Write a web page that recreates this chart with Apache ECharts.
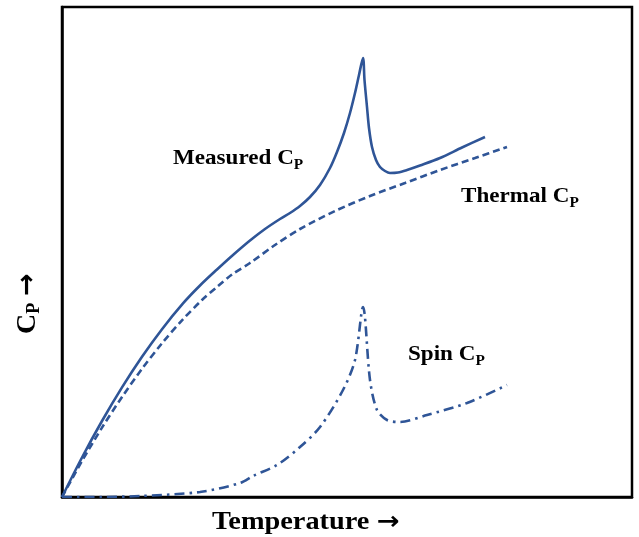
<!DOCTYPE html>
<html>
<head>
<meta charset="utf-8">
<style>
  html, body { margin: 0; padding: 0; background: #fff; }
  #chart { width: 639px; height: 537px; }
</style>
<script src="https://cdn.jsdelivr.net/npm/echarts@6/dist/echarts.min.js"></script>
</head>
<body>
<div id="chart"></div>
<script>
// Heat capacity vs temperature (schematic, arbitrary units):
// measured Cp, the smooth thermal (lattice) background and the spin contribution.
const measuredT  = [0, 20, 40, 60, 80, 100, 121, 138, 155, 171, 188, 203, 218, 228, 238, 248, 258, 268, 275, 282, 288, 293, 297, 301, 302.5, 305, 307, 310, 314, 318, 323, 328, 336, 345, 358, 378, 400, 423];
const measuredCp = [0, 39.5, 76, 109.6, 140.2, 167.8, 193.6, 211.5, 227.5, 242, 256.5, 268, 278, 284, 291, 300, 312, 329, 345, 364, 384, 404, 422, 439, 417, 390, 369, 350, 337, 330, 326, 324, 324.5, 327, 331.5, 339, 349.5, 360];

const thermalT  = [0, 20, 40, 60, 80, 100, 120, 140, 155, 170, 188, 213, 238, 273, 308, 343, 378, 413, 445];
const thermalCp = [0, 36, 69.4, 100, 128.2, 153.7, 176.7, 197, 210, 222.5, 234, 252, 268, 286, 301, 314, 327, 339, 350];

const spinT  = [0, 38, 78, 138, 178, 191, 215, 238, 258, 281, 293, 301, 308, 315, 325, 338, 365, 405, 445];
const spinCp = [0, 0, 1, 5, 14, 21, 32, 50, 70, 107, 137, 190, 117, 87, 77, 75, 82, 94, 112];

const seriesNames = ['Measured', 'Thermal', 'Spin'];
const axisRange = { tMax: 570, cpMax: 490 };

const pairs = (xs, ys) => xs.map((x, i) => [x, ys[i]]);

const BLUE = '#2f5597';
const SERIF = '"Liberation Serif", "Times New Roman", serif';

// Rich text styles: big letters, a lowered subscript, and a heavy arrow glyph.
const rich = (big, small, lh) => ({
  b: { fontFamily: SERIF, fontWeight: 'bold', fontSize: big, lineHeight: lh, color: '#000' },
  s: { fontFamily: SERIF, fontWeight: 'bold', fontSize: small, lineHeight: small, verticalAlign: 'bottom', color: '#000' },
  a: { fontFamily: '"DejaVu Sans"', fontWeight: 'bold', fontSize: Math.round(big * 0.95), lineHeight: lh, color: '#000' }
});

const label = (x, y, text, big, small, lh, extra) => Object.assign({
  type: 'text', x: x, y: y, scaleX: 1.1,
  style: { text: text, rich: rich(big, small, lh), align: 'left', verticalAlign: 'top' }
}, extra || {});

const chart = echarts.init(document.getElementById('chart'), null, { renderer: 'canvas' });

chart.setOption({
  animation: false,
  backgroundColor: '#fff',
  grid: {
    left: 62, right: 7, top: 7, bottom: 40,
    show: true, borderColor: '#000', borderWidth: 2.5, backgroundColor: 'transparent'
  },
  xAxis: {
    type: 'value', min: 0, max: axisRange.tMax,
    axisLine: { show: true, lineStyle: { color: '#000', width: 2.5 } },
    axisTick: { show: false }, axisLabel: { show: false }, splitLine: { show: false }
  },
  yAxis: {
    type: 'value', min: 0, max: axisRange.cpMax,
    axisLine: { show: true, lineStyle: { color: '#000', width: 2.5 } },
    axisTick: { show: false }, axisLabel: { show: false }, splitLine: { show: false }
  },
  series: [
    {
      name: seriesNames[0], type: 'line', data: pairs(measuredT, measuredCp),
      smooth: 0.3, symbol: 'none',
      lineStyle: { color: BLUE, width: 2.6 }
    },
    {
      name: seriesNames[1], type: 'line', data: pairs(thermalT, thermalCp),
      smooth: 0.3, symbol: 'none',
      lineStyle: { color: BLUE, width: 2.6, type: [7, 4] }
    },
    {
      name: seriesNames[2], type: 'line', data: pairs(spinT, spinCp),
      smooth: 0.3, symbol: 'none',
      lineStyle: { color: BLUE, width: 2.6, type: [10, 5, 2.5, 5] }
    }
  ],
  graphic: [
    label(173, 144.5, '{b|Measured C}{s|P}', 21, 14, 28),
    label(461, 182.5, '{b|Thermal C}{s|P}', 21, 14, 28),
    label(408, 340.5, '{b|Spin C}{s|P}', 21, 14, 28),
    label(212, 507, '{b|Temperature }{a|→}', 26, 17, 30, { scaleX: 1.09 }),
    label(13, 334, '{b|C}{s|P}{b| }{a|→}', 28, 18, 30, { rotation: Math.PI / 2, scaleX: 1 })
  ]
});
</script>
</body>
</html>
